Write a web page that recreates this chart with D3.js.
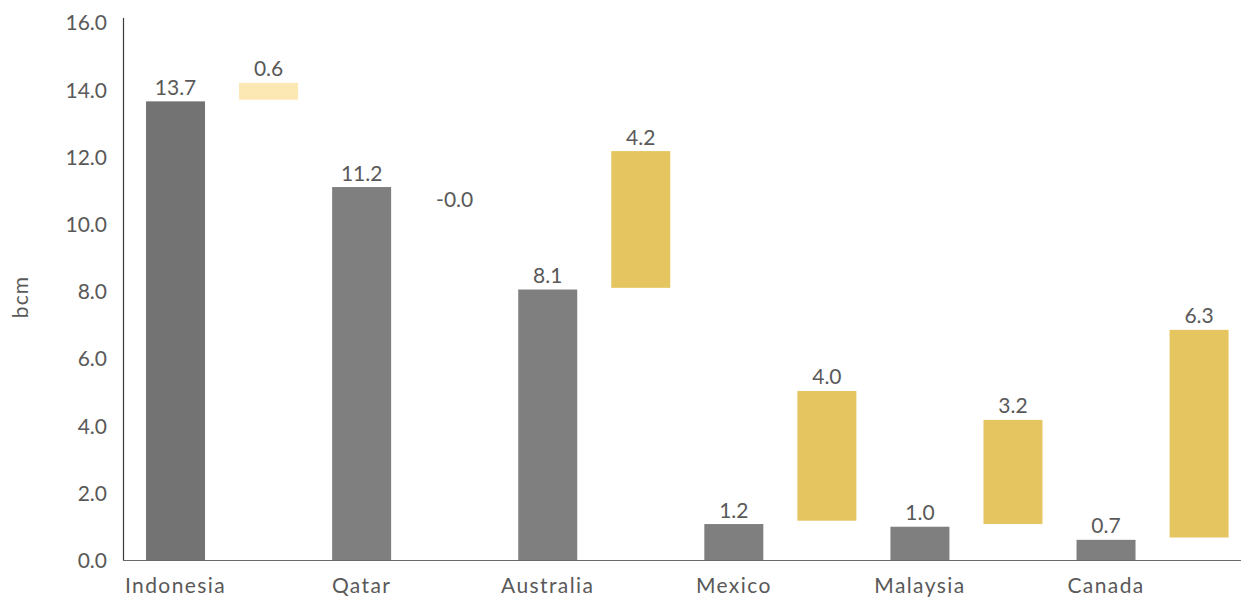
<!doctype html>
<html lang="en">
<head>
<meta charset="UTF-8">
<title>bcm</title>
<style>
  body { margin: 0; background: #fff; }
  #chart text { font-family: Lato, "Open Sans", sans-serif; fill: #595959; }
</style>
</head>
<body>
<svg id="chart" width="1241" height="598"></svg>
<script src="https://cdn.jsdelivr.net/npm/d3@7"></script>
<script>
// data
var countries = ['Indonesia', 'Qatar', 'Australia', 'Mexico', 'Malaysia', 'Canada']
var volume = [13.65, 11.1, 8.05, 1.07, 0.99, 0.6]
var volumeLabels = ['13.7', '11.2', '8.1', '1.2', '1.0', '0.7']
var changeLow = [13.7, 10.3, 8.1, 1.17, 1.07, 0.67]
var changeHigh = [14.2, 10.3, 12.17, 5.03, 4.17, 6.85]
var changeLabels = ['0.6', '-0.0', '4.2', '4.0', '3.2', '6.3']
var yTicks = [0, 2, 4, 6, 8, 10, 12, 14, 16]

var svg = d3.select('#chart')

// two slots per country: bar, then change
var slots = []
countries.forEach(function(c) { slots.push(c + '|v'); slots.push(c + '|c') })

var x = d3.scaleBand().domain(slots).range([129, 1245.6])
    .paddingInner(0.366).paddingOuter(0.183)
var y = d3.scaleLinear().domain([0, 16]).range([560, 22.4])

// y axis
var yAxis = svg.append('g').attr('transform', 'translate(123,0)')
    .call(d3.axisLeft(y).tickValues(yTicks).tickFormat(d3.format('.1f')).tickSize(0).tickPadding(16))
yAxis.select('.domain').remove()
yAxis.selectAll('text').attr('font-size', 21).attr('dy', '0.36em')
svg.append('line').attr('x1', 123.5).attr('x2', 123.5).attr('y1', 18).attr('y2', 560)
    .attr('stroke', '#3a3a3a').attr('stroke-width', 1.2)

svg.append('text').attr('transform', 'translate(28,297) rotate(-90)')
    .attr('text-anchor', 'middle').attr('font-size', 21).attr('letter-spacing', 1.2).text('bcm')

// bars
svg.selectAll('rect.vol').data(countries).enter().append('rect')
    .attr('class', 'vol')
    .attr('x', function(d) { return x(d + '|v') })
    .attr('width', x.bandwidth())
    .attr('y', function(d, i) { return y(volume[i]) })
    .attr('height', function(d, i) { return y(0) - y(volume[i]) })
    .attr('fill', function(d, i) { return i === 0 ? '#737373' : '#7f7f7f' })

svg.selectAll('text.vol').data(countries).enter().append('text')
    .attr('class', 'vol')
    .attr('x', function(d) { return x(d + '|v') + x.bandwidth() / 2 })
    .attr('y', function(d, i) { return y(volume[i]) - 6.5 })
    .attr('text-anchor', 'middle').attr('font-size', 21)
    .text(function(d, i) { return volumeLabels[i] })

svg.selectAll('rect.chg').data(countries).enter().append('rect')
    .attr('class', 'chg')
    .attr('x', function(d) { return x(d + '|c') })
    .attr('width', x.bandwidth())
    .attr('y', function(d, i) { return y(changeHigh[i]) })
    .attr('height', function(d, i) { return y(changeLow[i]) - y(changeHigh[i]) })
    .attr('fill', function(d, i) { return i === 0 ? '#fce8b2' : '#e5c55f' })

svg.selectAll('text.chg').data(countries).enter().append('text')
    .attr('class', 'chg')
    .attr('x', function(d) { return x(d + '|c') + x.bandwidth() / 2 })
    .attr('y', function(d, i) { return y(changeHigh[i]) - 6.5 })
    .attr('text-anchor', 'middle').attr('font-size', 21)
    .text(function(d, i) { return changeLabels[i] })

// x axis
svg.append('line').attr('x1', 123).attr('x2', 1241).attr('y1', 560.5).attr('y2', 560.5)
    .attr('stroke', '#6a6a6a').attr('stroke-width', 1.2)

svg.selectAll('text.cat').data(countries).enter().append('text')
    .attr('class', 'cat')
    .attr('x', function(d) { return x(d + '|v') + x.bandwidth() / 2 })
    .attr('y', 593)
    .attr('text-anchor', 'middle').attr('font-size', 21).attr('letter-spacing', 1.4)
    .text(function(d) { return d })
</script>
</body>
</html>
